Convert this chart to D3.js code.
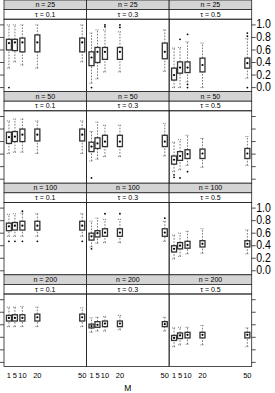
<!DOCTYPE html>
<html>
<head>
<meta charset="utf-8">
<script src="https://cdn.jsdelivr.net/npm/d3@7"></script>
<style>
  body { margin: 0; background: #fff; }
  svg { display: block; }
</style>
</head>
<body>
<svg id="chart" width="275" height="393"></svg>
<script>
// panel conditioning
const nLabels = [25, 50, 100, 200];
const tauLabels = ['0.1', '0.3', '0.5'];
const mValues = [1, 5, 10, 20, 50];
const yTicks = [0, 0.2, 0.4, 0.6, 0.8, 1.0];

// box stats per M: [lower whisker, q1, median, q3, upper whisker], one list per tau
const boxes25 = [
  [[0.31, 0.60, 0.71, 0.77, 1.0], [0.41, 0.59, 0.72, 0.77, 1.0], [0.36, 0.57, 0.72, 0.79, 1.0], [0.31, 0.57, 0.72, 0.84, 1.0], [0.41, 0.57, 0.72, 0.79, 1.0]],
  [[0.07, 0.35, 0.48, 0.57, 0.87], [0.14, 0.40, 0.57, 0.64, 0.92], [0.25, 0.45, 0.57, 0.64, 0.92], [0.25, 0.45, 0.57, 0.64, 0.89], [0.26, 0.46, 0.57, 0.71, 0.92]],
  [[0.0, 0.12, 0.20, 0.31, 0.63], [0.0, 0.23, 0.32, 0.41, 0.64], [0.09, 0.24, 0.32, 0.41, 0.73], [0.0, 0.25, 0.36, 0.47, 0.71], [0.15, 0.31, 0.39, 0.47, 0.78]]
];
const boxes50 = [
  [[0.41, 0.57, 0.67, 0.75, 0.93], [0.43, 0.60, 0.68, 0.76, 0.96], [0.43, 0.60, 0.71, 0.80, 0.96], [0.41, 0.61, 0.71, 0.80, 0.93], [0.41, 0.61, 0.71, 0.80, 0.93]],
  [[0.29, 0.44, 0.52, 0.59, 0.76], [0.32, 0.49, 0.57, 0.66, 0.91], [0.36, 0.52, 0.60, 0.70, 0.86], [0.36, 0.52, 0.60, 0.70, 0.86], [0.37, 0.52, 0.60, 0.70, 0.89]],
  [[0.12, 0.24, 0.31, 0.37, 0.59], [0.15, 0.30, 0.37, 0.44, 0.63], [0.22, 0.33, 0.40, 0.47, 0.70], [0.19, 0.33, 0.41, 0.48, 0.65], [0.22, 0.33, 0.41, 0.49, 0.68]]
];
const boxes100 = [
  [[0.55, 0.64, 0.71, 0.76, 0.90], [0.55, 0.65, 0.72, 0.77, 0.91], [0.55, 0.65, 0.72, 0.79, 0.92], [0.55, 0.65, 0.72, 0.79, 0.91], [0.55, 0.65, 0.72, 0.79, 0.91]],
  [[0.38, 0.49, 0.55, 0.60, 0.79], [0.44, 0.54, 0.60, 0.64, 0.84], [0.45, 0.55, 0.61, 0.67, 0.82], [0.45, 0.55, 0.61, 0.67, 0.82], [0.47, 0.55, 0.61, 0.67, 0.79]],
  [[0.19, 0.30, 0.35, 0.40, 0.57], [0.23, 0.35, 0.40, 0.45, 0.60], [0.27, 0.36, 0.41, 0.47, 0.63], [0.28, 0.38, 0.43, 0.48, 0.67], [0.27, 0.38, 0.43, 0.48, 0.65]]
];
const boxes200 = [
  [[0.57, 0.66, 0.71, 0.75, 0.88], [0.57, 0.66, 0.71, 0.76, 0.88], [0.57, 0.66, 0.71, 0.76, 0.89], [0.57, 0.66, 0.72, 0.77, 0.88], [0.57, 0.66, 0.72, 0.77, 0.87]],
  [[0.48, 0.55, 0.58, 0.61, 0.71], [0.50, 0.56, 0.60, 0.65, 0.72], [0.50, 0.57, 0.62, 0.66, 0.73], [0.52, 0.57, 0.62, 0.66, 0.75], [0.50, 0.57, 0.61, 0.65, 0.72]],
  [[0.25, 0.35, 0.39, 0.43, 0.55], [0.28, 0.38, 0.43, 0.47, 0.56], [0.29, 0.39, 0.44, 0.48, 0.56], [0.28, 0.39, 0.44, 0.48, 0.59], [0.25, 0.39, 0.44, 0.48, 0.55]]
];

// outliers per tau, per M
const outliers25 = [
  [[0.0], [], [], [], []],
  [[0.0], [], [1.0, 0.97], [1.0, 0.96], []],
  [[], [0.77], [0.85, 0.05, 0.0], [], [0.87, 0.82, 0.0]]
];
const outliers50 = [
  [[], [], [], [], []],
  [[0.02], [], [], [], []],
  [[0.07, 0.03], [0.02], [0.12], [], []]
];
const outliers100 = [
  [[0.47], [0.47], [0.95, 0.47], [0.47], [0.47]],
  [[0.35], [], [0.91], [0.91], [0.84]],
  [[], [], [], [], []]
];
const outliers200 = [
  [[], [], [], [], []],
  [[], [], [], [], []],
  [[], [], [], [], []]
];

const allBoxes = [boxes25, boxes50, boxes100, boxes200];
const allOutliers = [outliers25, outliers50, outliers100, outliers200];

/** layout */
const plotLeft = 4, plotRight = 251.7;
const rowPitch = 91.6, stripH = 9.6;
const colW = (plotRight - plotLeft) / 3;
const panelH = rowPitch - 2 * stripH;
const boxW = 5;

const svg = d3.select('#chart');
const sans = '"Liberation Sans", Arial, sans-serif';

nLabels.forEach((n, r) => {
  const rowTop = r * rowPitch;
  const pTop = rowTop + 2 * stripH;
  const y = d3.scaleLinear().domain([-0.064, 1.091]).range([pTop + panelH, pTop]);

  tauLabels.forEach((tau, c) => {
    const left = plotLeft + c * colW;
    const x = d3.scaleLinear().domain([-2.3, 52.9]).range([left, left + colW]);
    const g = svg.append('g');

    // strips
    g.append('rect').attr('x', left).attr('y', rowTop).attr('width', colW).attr('height', stripH)
      .attr('fill', '#d4d4d4').attr('stroke', '#222').attr('stroke-width', 0.8);
    g.append('rect').attr('x', left).attr('y', rowTop + stripH).attr('width', colW).attr('height', stripH)
      .attr('fill', '#fff').attr('stroke', '#222').attr('stroke-width', 0.8);
    g.append('text').attr('x', left + colW / 2).attr('y', rowTop + stripH / 2 + 0.5)
      .attr('text-anchor', 'middle').attr('dominant-baseline', 'middle')
      .style('font-family', sans).style('font-size', '7px').text(`n = ${n}`);
    g.append('text').attr('x', left + colW / 2).attr('y', rowTop + 1.5 * stripH + 0.5)
      .attr('text-anchor', 'middle').attr('dominant-baseline', 'middle')
      .style('font-family', sans).style('font-size', '7px').text(`\u03c4 = ${tau}`);

    // panel border
    g.append('rect').attr('x', left).attr('y', pTop).attr('width', colW).attr('height', panelH)
      .attr('fill', 'none').attr('stroke', '#222').attr('stroke-width', 0.8);

    const stats = allBoxes[r][c];
    const outs = allOutliers[r][c];

    mValues.forEach((m, i) => {
      const [lo, q1, med, q3, hi] = stats[i];
      const cx = x(m);
      // whiskers
      [[lo, q1], [q3, hi]].forEach(([a, b]) => {
        g.append('line').attr('x1', cx).attr('x2', cx).attr('y1', y(a)).attr('y2', y(b))
          .attr('stroke', '#555').attr('stroke-width', 0.8).attr('stroke-dasharray', '1.6,1.4');
      });
      [lo, hi].forEach(v => {
        g.append('line').attr('x1', cx - 2).attr('x2', cx + 2).attr('y1', y(v)).attr('y2', y(v))
          .attr('stroke', '#555').attr('stroke-width', 0.8).attr('stroke-dasharray', '1,1');
      });
      g.append('rect').attr('x', cx - boxW / 2).attr('y', y(q3)).attr('width', boxW)
        .attr('height', y(q1) - y(q3))
        .attr('fill', '#fff').attr('stroke', '#333').attr('stroke-width', 1.3);
      g.append('circle').attr('cx', cx).attr('cy', y(med)).attr('r', 1.1).attr('fill', '#000');
      outs[i].forEach(v => {
        g.append('circle').attr('cx', cx).attr('cy', y(v)).attr('r', 0.9).attr('fill', '#000');
      });
    });
  });

  // left ticks
  svg.selectAll(null).data(yTicks).enter().append('line')
    .attr('x1', plotLeft - 4).attr('x2', plotLeft).attr('y1', d => y(d)).attr('y2', d => y(d))
    .attr('stroke', '#222').attr('stroke-width', 0.8);
  // right ticks
  svg.selectAll(null).data(yTicks).enter().append('line')
    .attr('x1', plotRight).attr('x2', plotRight + 4).attr('y1', d => y(d)).attr('y2', d => y(d))
    .attr('stroke', '#222').attr('stroke-width', 0.8);
  if (r % 2 === 0) {
    // tall condensed labels, squeezed horizontally
    svg.selectAll(null).data(yTicks).enter().append('text')
      .attr('transform', d => `translate(${plotRight + 4.5},${y(d)}) scale(0.78,1)`)
      .attr('dominant-baseline', 'middle')
      .style('font-family', sans).style('font-size', '13.5px')
      .text(d => d3.format('.1f')(d));
  }
});

// bottom axis labels
const bottom = 3 * rowPitch + 2 * stripH + panelH;
tauLabels.forEach((tau, c) => {
  const left = plotLeft + c * colW;
  const x = d3.scaleLinear().domain([-2.3, 52.9]).range([left, left + colW]);
  svg.selectAll(null).data(mValues).enter().append('text')
    .attr('x', d => x(d)).attr('y', bottom + 10)
    .attr('text-anchor', 'middle').attr('dominant-baseline', 'middle')
    .style('font-family', sans).style('font-size', '7.5px')
    .text(d => d);
});

svg.append('text').attr('x', (plotLeft + plotRight) / 2).attr('y', 389)
  .attr('text-anchor', 'middle').attr('dominant-baseline', 'middle')
  .style('font-family', sans).style('font-size', '8.5px').text('M');
</script>
</body>
</html>
